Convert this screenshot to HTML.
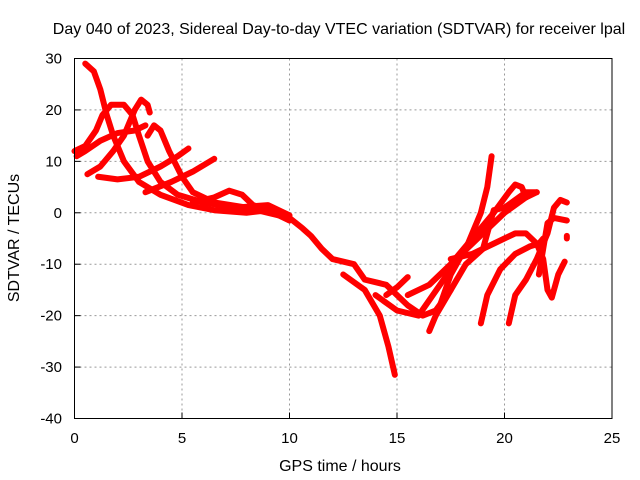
<!DOCTYPE html>
<html><head><meta charset="utf-8"><style>
body{margin:0;background:#fff;}
svg{display:block;font-family:"Liberation Sans",sans-serif;}
</style></head><body>
<svg id="chart" width="640" height="480" viewBox="0 0 640 480">
<text x="339" y="34" font-size="16" text-anchor="middle">Day 040 of 2023, Sidereal Day-to-day VTEC variation (SDTVAR) for receiver lpal</text>
<text x="340" y="471" font-size="16" text-anchor="middle">GPS time / hours</text>
<text transform="translate(19,238) rotate(-90)" font-size="16" text-anchor="middle">SDTVAR / TECUs</text>
<g id="grid"></g>
<g id="ticks"></g>
<g id="series"></g>
<rect x="74.5" y="58.5" width="537.5" height="360" fill="none" stroke="#000" stroke-width="1"/>
</svg>
<script>
const xTicks=[0,5,10,15,20,25];
const yTicks=[30,20,10,0,-10,-20,-30,-40];
const arc1=[[0.5,29],[0.9,27.5],[1.2,24],[1.5,19],[1.8,15],[2.3,10],[3,6],[4,3.5],[5.3,1.5],[6.5,0.5],[8,0],[9,0.5],[10,-1.5]];
const arc2=[[0,12],[0.5,13],[1,16],[1.3,19],[1.7,21],[2.3,21],[2.7,19],[3,15],[3.4,10],[4,6],[4.8,3.5],[6,2],[7.5,1],[9,1.5],[10,-0.5]];
const arc3=[[0.6,7.5],[1.2,9],[1.8,12],[2.3,15],[2.8,20],[3.1,22],[3.4,21],[3.5,19.5]];
const arc4=[[3.4,15],[3.7,17],[4,16],[4.4,12],[5,7],[5.5,4],[6.5,2],[8,1],[9,0],[10,-1]];
const arc5=[[1.1,7],[2,6.5],[3,7],[4,9],[4.8,11],[5.3,12.5]];
const arc6=[[3.3,4],[4.5,6],[5.5,8],[6.5,10.5]];
const arc7=[[5.5,2],[6.5,3],[7.2,4.3],[7.8,3.5],[8.3,1.5],[9,0.5]];
const arc8=[[0.1,11],[0.5,12],[1.2,14],[2,15.5],[2.8,16],[3.3,17]];
const band=[[10,-1],[10.6,-3],[11,-4.5],[11.5,-7],[12,-9],[13,-10],[13.5,-13],[14.5,-14],[15.5,-18],[16.2,-20],[16.8,-19],[17.5,-15]];
const drop=[[12.5,-12],[13.5,-15],[14.2,-20],[14.6,-26],[14.9,-31.5]];
const r1=[[14,-16],[15,-19],[16,-20],[17,-14],[18,-8],[19,-4],[20,0],[21,3],[21.5,4]];
const r2=[[16.5,-23],[17,-18],[17.5,-12],[18.3,-6],[18.9,0],[19.2,5],[19.4,11]];
const r3=[[14.5,-16],[15,-14.5],[15.5,-12.5]];
const r4=[[15.5,-16],[16.5,-14],[17.5,-10],[18.5,-5],[19.5,0],[20.2,4],[20.5,5.5],[20.8,5],[21,3]];
const r5=[[16.8,-20],[17.5,-15],[18.2,-10],[19,-7],[19.5,0.5],[20,1],[20.5,2.5],[21,4],[21.5,4]];
const r6=[[17.5,-9],[18.5,-8],[19.5,-6],[20.5,-4],[21,-4],[21.5,-6],[21.8,-9],[22,-15],[22.2,-16.5],[22.5,-12],[22.8,-9.5]];
const r7=[[18.9,-21.5],[19.2,-16],[19.8,-11],[20.5,-8],[21.2,-6.5],[21.6,-6],[21.8,-5]];
const r8=[[20.2,-21.5],[20.5,-16],[21,-13],[21.5,-9],[22,-4],[22.3,1],[22.6,2.5],[22.9,2]];
const r9=[[21.6,-12],[21.8,-7],[22,-2],[22.3,-1],[22.9,-1.5]];
const r10=[[22.9,-4.5],[22.9,-5]];
const allSeries=[arc1,arc2,arc3,arc4,arc5,arc6,arc7,arc8,band,drop,r1,r2,r3,r4,r5,r6,r7,r8,r9,r10];

const X0=74.5,X1=612,Y0=418.5,Y1=58.5;
const xs=v=>X0+(v-0)/(25-0)*(X1-X0);
const ys=v=>Y0-(v+40)/(70)*(Y0-Y1);
const NS='http://www.w3.org/2000/svg';
const grid=document.getElementById('grid'),ticks=document.getElementById('ticks'),ser=document.getElementById('series');
function mk(t,a,p){const e=document.createElementNS(NS,t);for(const k in a)e.setAttribute(k,a[k]);p.appendChild(e);return e;}
xTicks.forEach(v=>{
  const x=xs(v);
  if(v>0&&v<25){const g=mk('line',{x1:x,x2:x,y1:Y1,y2:Y0,stroke:'#999','stroke-dasharray':'2,3'},grid);
  
  }
  const t=mk('text',{x:x,y:443,'font-size':15,'text-anchor':'middle'},ticks);t.textContent=v;
  
  
  mk('line',{x1:x,x2:x,y1:Y0,y2:Y0-6,stroke:'#000'},ticks);
});
yTicks.forEach(v=>{
  const y=ys(v);
  if(v>-40&&v<30){const g=mk('line',{x1:X0,x2:X1,y1:y,y2:y,stroke:'#999','stroke-dasharray':'2,3'},grid);
  
  }
  const t=mk('text',{x:62,y:y+5,'font-size':15,'text-anchor':'end'},ticks);t.textContent=v;
  
  
  mk('line',{x1:X0,x2:X0+6,y1:y,y2:y,stroke:'#000'},ticks);
});
allSeries.forEach(s=>{
  const p=mk('polyline',{points:s.map(d=>xs(d[0])+','+ys(d[1])).join(' '),fill:'none',stroke:'#f00','stroke-width':6,'stroke-linejoin':'round','stroke-linecap':'round'},ser);
  
  
});
</script>
</body></html>
